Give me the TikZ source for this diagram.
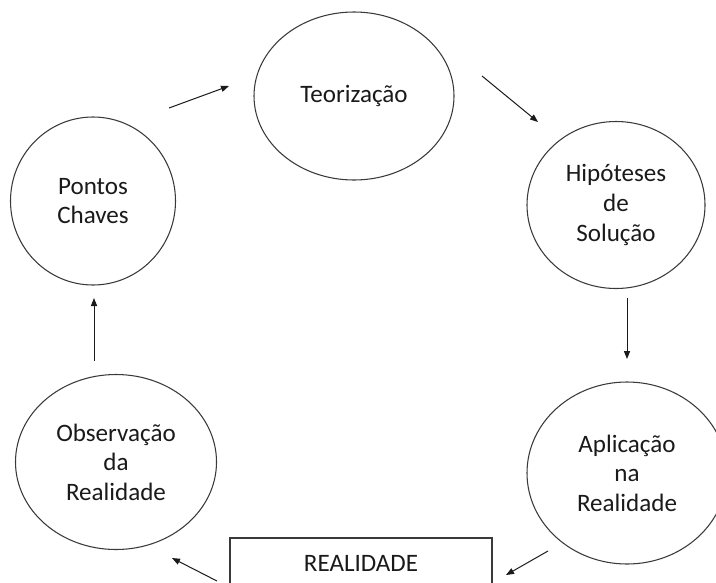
\documentclass[tikz,border=0pt]{standalone}
\usepackage{fontspec}
\setmainfont{Carlito}
\usetikzlibrary{arrows.meta,shapes.geometric}
\definecolor{CycleInk}{HTML}{1A1A1A}
\definecolor{CycleLine}{HTML}{3A3A3A}
\tikzset{
  every node/.style={font=\fontsize{18.8}{22.2}\selectfont, text=CycleInk},
  stage/.style={ellipse, draw=CycleLine, line width=0.8pt, align=center, inner sep=0pt},
  ground/.style={rectangle, draw=CycleLine, line width=0.8pt, inner sep=0pt},
  flow/.style={-{Triangle[length=6pt,width=4.6pt]}, draw=CycleInk, line width=0.75pt},
}
\begin{document}
\begin{tikzpicture}[x=0.75pt, y=-0.75pt]
  \useasboundingbox (0,0) rectangle (716,582);
  \clip (0,0) rectangle (716,582);
  % Stages of the cycle (sizes in px, one px = 0.75pt)
  \node[stage, minimum width=200*0.75pt, minimum height=168*0.75pt] (teo) at (354,96) {Teorização};
  \node[stage, minimum width=165*0.75pt, minimum height=168*0.75pt] (pontos) at (93,201) {Pontos\\Chaves};
  \node[stage, minimum width=178*0.75pt, minimum height=167*0.75pt] (hip) at (616,205) {Hipóteses\\de\\Solução};
  \node[stage, minimum width=200*0.75pt, minimum height=182*0.75pt] (apl) at (627,473) {Aplicação\\na\\Realidade};
  \node[stage, minimum width=201*0.75pt, minimum height=175*0.75pt] (obs) at (116,462) {Observação\\da\\Realidade};
  % Reality box, cut by the bottom edge
  \node[ground, minimum width=262*0.75pt, minimum height=50*0.75pt] (real) at (361,563) {REALIDADE};
  % Arrow ends
  \coordinate (pt1) at (169,108);  \coordinate (pt2) at (229,86);
  \coordinate (th1) at (482,76);   \coordinate (th2) at (538,122);
  \coordinate (ha1) at (627,298);  \coordinate (ha2) at (627,359);
  \coordinate (ar1) at (548,551);  \coordinate (ar2) at (506,575);
  \coordinate (ro1) at (217,581);  \coordinate (ro2) at (172,558);
  \coordinate (op1) at (94,361);   \coordinate (op2) at (94,298);
  \foreach \a/\b in {pt1/pt2, th1/th2, ha1/ha2, ar1/ar2, ro1/ro2, op1/op2} {
    \draw[flow] (\a) -- (\b);
  }
\end{tikzpicture}
\end{document}
